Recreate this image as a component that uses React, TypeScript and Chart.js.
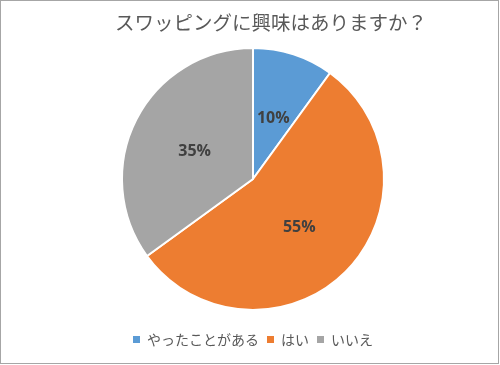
import React, { useEffect, useRef } from "react";
import { Chart, registerables } from "chart.js";

Chart.register(...registerables);

const TITLE = "スワッピングに興味はありますか？";
const CATEGORIES = ["やったことがある", "はい", "いいえ"];
const VALUES = [10, 55, 35];
const COLORS = ["#5B9BD5", "#ED7D31", "#A5A5A5"];

const JP_FONT = '"Noto Sans CJK JP", "Noto Sans", sans-serif';

const titlePlugin = {
  id: "customTitle",
  afterDraw(chart: any) {
    const ctx = chart.ctx;
    ctx.save();
    ctx.font = `19.5px ${JP_FONT}`;
    ctx.fillStyle = "#595959";
    ctx.textAlign = "center";
    ctx.textBaseline = "middle";
    ctx.fillText(TITLE, 271, 23);
    ctx.restore();
  },
};

const labelPlugin = {
  id: "sliceLabels",
  afterDatasetsDraw(chart: any) {
    const ctx = chart.ctx;
    const meta = chart.getDatasetMeta(0);
    const data = chart.data.datasets[0].data;
    ctx.save();
    ctx.font = `bold 16px "Open Sans", "Noto Sans", sans-serif`;
    ctx.fillStyle = "#404040";
    ctx.textAlign = "center";
    ctx.textBaseline = "middle";
    meta.data.forEach((arc: any, i: number) => {
      const p = arc.tooltipPosition();
      ctx.fillText(`${data[i]}%`, p.x, p.y + 2);
    });
    ctx.restore();
  },
};

export default function App() {
  const ref = useRef<HTMLCanvasElement | null>(null);

  useEffect(() => {
    document.body.style.margin = "0";
    const canvas = ref.current;
    if (!canvas) return;
    const chart = new Chart(canvas, {
      type: "pie",
      data: {
        labels: CATEGORIES,
        datasets: [
          {
            data: VALUES,
            backgroundColor: COLORS,
            borderColor: "#FFFFFF",
            borderWidth: 2,
          },
        ],
      },
      options: {
        responsive: false,
        devicePixelRatio: 1,
        animation: false,
        layout: { padding: { left: 121, right: 115, top: 33.5, bottom: 8.5 } },
        plugins: {
          title: { display: false },
          tooltip: { enabled: false },
          legend: {
            display: true,
            position: "bottom",
            labels: {
              boxWidth: 7,
              boxHeight: 7,
              padding: 8,
              color: "#595959",
              font: { family: JP_FONT, size: 14 },
              generateLabels: (c: any) =>
                (Chart as any).overrides.pie.plugins.legend.labels
                  .generateLabels(c)
                  .map((l: any) => ({ ...l, lineWidth: 0, strokeStyle: "rgba(0,0,0,0)" })),
            },
          },
        },
      },
      plugins: [titlePlugin, labelPlugin],
    });
    return () => chart.destroy();
  }, []);

  return (
    <div style={{ position: "relative", width: 500, height: 365, background: "#fff" }}>
      <canvas ref={ref} width={500} height={365} style={{ display: "block", width: 500, height: 365 }} />
      <div
        style={{
          position: "absolute",
          left: 0,
          top: 0,
          width: 499,
          height: 364,
          boxSizing: "border-box",
          border: "1px solid #A6A6A6",
          pointerEvents: "none",
        }}
      />
    </div>
  );
}
